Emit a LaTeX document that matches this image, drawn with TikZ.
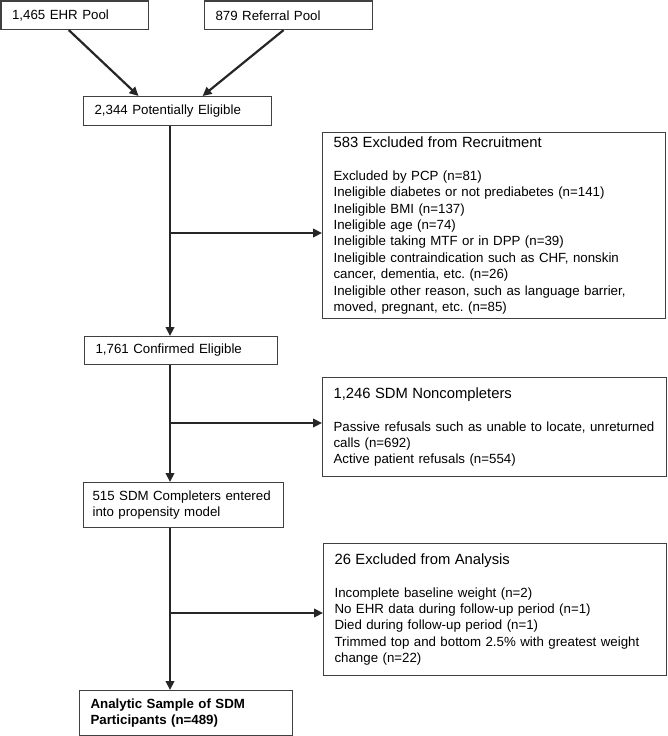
\documentclass[tikz,border=0pt]{standalone}
\usepackage{fontspec}
\setmainfont{Liberation Sans}
\usetikzlibrary{arrows.meta,positioning}
\newcommand{\headsize}{\fontsize{14.8}{16.4}\selectfont}

\begin{document}
\begin{tikzpicture}[x=1pt,y=-1pt,->,>={Triangle[length=9pt,width=8.5pt]},line width=2.2pt,draw=black!85,
        box/.style={draw=black!75,line width=1.1pt,anchor=north west,align=left,inner xsep=11pt,inner ysep=0pt,
            font=\fontsize{13.3}{16.4}\selectfont\frenchspacing}]
            \useasboundingbox (0,0) rectangle (667,736);

            \node[box,text width=125.5pt,minimum height=28.5pt] (ehr_pool) at (0.5,0.5) {1,465 EHR Pool};
            \node[box,text width=146pt,minimum height=28.5pt] (referral_pool) at (204,0.5) {879 Referral Pool};
            \node[box,text width=166pt,minimum height=29pt] (potentially_eligible) at (83,96) {2,344 Potentially Eligible};
            \node[box,text width=321pt,minimum height=186pt] (excluded_recruitment) at (322,132) {{\headsize 583 Excluded from Recruitment}\\[16.4pt]
                Excluded by PCP (n=81)\\
                Ineligible diabetes or not prediabetes (n=141)\\
                Ineligible BMI (n=137)\\
                Ineligible age (n=74)\\
                Ineligible taking MTF or in DPP (n=39)\\
                Ineligible contraindication such as CHF, nonskin\\
                cancer, dementia, etc. (n=26)\\
                Ineligible other reason, such as language barrier,\\
                moved, pregnant, etc. (n=85)};
            \node[box,text width=171pt,minimum height=28pt] (confirmed_eligible) at (84,336) {1,761 Confirmed Eligible};
            \node[box,text width=322pt,minimum height=99pt] (noncompleters) at (322,377) {{\headsize 1,246 SDM Noncompleters}\\[16.4pt]
                Passive refusals such as unable to locate, unreturned\\
                calls (n=692)\\
                Active patient refusals (n=554)};
            \node[box,text width=182pt,inner xsep=9pt,minimum height=45pt] (completers) at (83,482) {515 SDM Completers entered\\into propensity model};
            \node[box,text width=321pt,minimum height=132pt] (excluded_analysis) at (323,543) {{\headsize 26 Excluded from Analysis}\\[16.4pt]
                Incomplete baseline weight (n=2)\\
                No EHR data during follow-up period (n=1)\\
                Died during follow-up period (n=1)\\
                Trimmed top and bottom 2.5\% with greatest weight\\
                change (n=22)};
            \node[box,text width=191pt,minimum height=45pt,font=\fontsize{13.3}{16.4}\selectfont\bfseries] (analytic_sample) at (79,690) {Analytic Sample of SDM\\Participants (n=489)};

            \coordinate (trunk) at (170,0);
            \coordinate (split_1) at (170,233);
            \coordinate (split_2) at (170,423);
            \coordinate (split_3) at (170,613);

            \path ([xshift=-6pt]ehr_pool.south) edge ([xshift=-39pt]potentially_eligible.north);
            \path ([xshift=-5pt]referral_pool.south) edge ([xshift=25pt]potentially_eligible.north);

            \path (potentially_eligible.south -| trunk) edge (confirmed_eligible.north -| trunk);
            \path (confirmed_eligible.south -| trunk) edge (completers.north -| trunk);
            \path (completers.south -| trunk) edge (analytic_sample.north -| trunk);

            \path (split_1) edge (split_1 -| excluded_recruitment.west);
            \path (split_2) edge (split_2 -| noncompleters.west);
            \path (split_3) edge (split_3 -| excluded_analysis.west);
        \end{tikzpicture}
\end{document}
